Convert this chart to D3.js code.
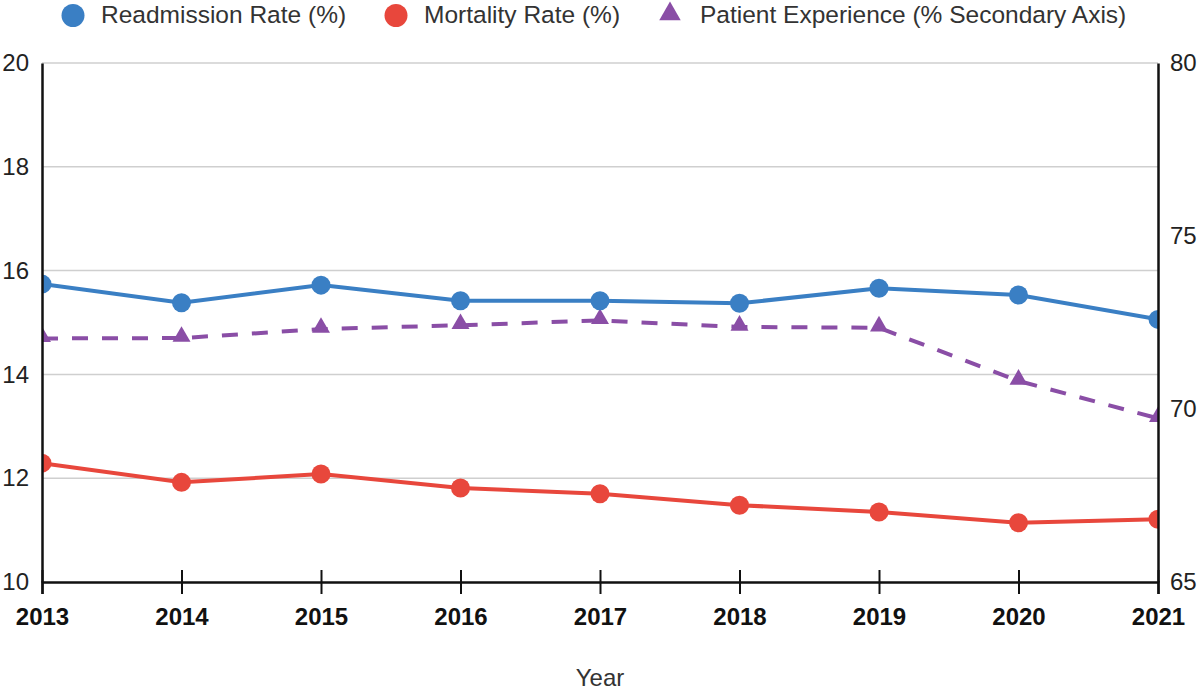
<!DOCTYPE html>
<html>
<head>
<meta charset="utf-8">
<script src="https://cdn.jsdelivr.net/npm/d3@7"></script>
<style>
  body { margin: 0; background: #fff; }
  svg { font-family: "Liberation Sans", Arial, sans-serif; }
</style>
</head>
<body>
<div id="chart"></div>
<script>
// data
const years = [2013, 2014, 2015, 2016, 2017, 2018, 2019, 2020, 2021];
const readmission = [15.74, 15.38, 15.72, 15.42, 15.42, 15.37, 15.66, 15.53, 15.06];
const mortality = [12.29, 11.92, 12.08, 11.81, 11.70, 11.48, 11.35, 11.14, 11.21];
const experience = [72.04, 72.05, 72.31, 72.42, 72.56, 72.37, 72.35, 70.81, 69.73];
const leftTicks = [10, 12, 14, 16, 18, 20];
const rightTicks = [65, 70, 75, 80];

const width = 1200, height = 691;
const margin = {top: 63, bottom: 109, left: 42, right: 42}; // plot 42..1158 x 63..582

const svg = d3.select('#chart').append('svg')
    .attr('width', width).attr('height', height);

const scaleX = d3.scaleLinear([2013, 2021], [margin.left, width - margin.right]);
const scaleY = d3.scaleLinear([10, 20], [height - margin.bottom, margin.top]);
const scaleY2 = d3.scaleLinear([65, 80], [height - margin.bottom, margin.top]);

const colors = {blue: '#3a7fc4', red: '#e8473c', purple: '#8a4ea6'};
const font = '"Liberation Sans", Arial, sans-serif';

// gridlines
svg.append('g')
    .selectAll('line')
    .data(leftTicks.filter(d => d !== 10))
    .join('line')
    .attr('x1', scaleX(2013)).attr('x2', scaleX(2021))
    .attr('y1', d => scaleY(d)).attr('y2', d => scaleY(d))
    .attr('stroke', '#cfcfcf').attr('stroke-width', 1.5);

// clip for plot area
svg.append('clipPath').attr('id', 'plot')
    .append('rect')
    .attr('x', scaleX(2013)).attr('y', 0)
    .attr('width', scaleX(2021) - scaleX(2013)).attr('height', height - margin.bottom);

const plot = svg.append('g').attr('clip-path', 'url(#plot)');

const lineGen = (scale) => d3.line().x((d, i) => scaleX(years[i])).y(d => scale(d));

// patient experience (secondary)
plot.append('path')
    .datum(experience)
    .attr('d', lineGen(scaleY2))
    .attr('fill', 'none').attr('stroke', colors.purple)
    .attr('stroke-width', 4).attr('stroke-dasharray', '16,14');
plot.selectAll('path.tri')
    .data(experience)
    .join('path').classed('tri', true)
    .attr('d', d3.symbol(d3.symbolTriangle, 140))
    .attr('transform', (d, i) => `translate(${scaleX(years[i])},${scaleY2(d) - 1.5})`)
    .attr('fill', colors.purple);

// readmission + mortality
[[readmission, colors.blue], [mortality, colors.red]].forEach(([vals, c]) => {
    plot.append('path')
        .datum(vals)
        .attr('d', lineGen(scaleY))
        .attr('fill', 'none').attr('stroke', c).attr('stroke-width', 4);
    plot.append('g').selectAll('circle')
        .data(vals)
        .join('circle')
        .attr('cx', (d, i) => scaleX(years[i]))
        .attr('cy', d => scaleY(d))
        .attr('r', 9.5)
        .attr('fill', c);
});

// axes
const axisX = svg.append('g')
    .attr('transform', `translate(0,${scaleY(10)})`)
    .call(d3.axisBottom(scaleX).tickValues(years).tickFormat(d3.format('d')).tickSize(12).tickPadding(14));
axisX.select('.domain').attr('stroke', '#111').attr('stroke-width', 2.5);
axisX.selectAll('.tick line').attr('y1', -12).attr('stroke', '#111').attr('stroke-width', 2);
axisX.selectAll('.tick text')
    .attr('font-size', 24).attr('font-weight', 'bold').attr('fill', '#111')
    .attr('font-family', font);

const axisY = svg.append('g')
    .attr('transform', `translate(${scaleX(2013)},0)`)
    .call(d3.axisLeft(scaleY).tickValues(leftTicks).tickSize(0).tickPadding(13));
axisY.select('.domain').attr('stroke', '#111').attr('stroke-width', 2.5);
axisY.selectAll('.tick text')
    .attr('font-size', 24).attr('fill', '#222')
    .attr('font-family', font);

const axisY2 = svg.append('g')
    .attr('transform', `translate(${scaleX(2021)},0)`)
    .call(d3.axisRight(scaleY2).tickValues(rightTicks).tickSize(0).tickPadding(12));
axisY2.select('.domain').attr('stroke', '#111').attr('stroke-width', 2.5);
axisY2.selectAll('.tick text')
    .attr('font-size', 24).attr('fill', '#222')
    .attr('font-family', font);

// axis title
svg.append('text')
    .attr('x', (scaleX(2013) + scaleX(2021)) / 2).attr('y', 686)
    .attr('text-anchor', 'middle')
    .attr('font-size', 24).attr('fill', '#333')
    .text('Year');

// legend
const legend = svg.append('g').attr('font-size', 24.5).attr('fill', '#333');
const items = [
    {label: 'Readmission Rate (%)', color: colors.blue, shape: 'circle', x: 73},
    {label: 'Mortality Rate (%)', color: colors.red, shape: 'circle', x: 396},
    {label: 'Patient Experience (% Secondary Axis)', color: colors.purple, shape: 'tri', x: 670}
];
items.forEach(it => {
    if (it.shape === 'circle') {
        legend.append('circle').attr('cx', it.x).attr('cy', 15.5).attr('r', 11.5).attr('fill', it.color);
    } else {
        legend.append('path').attr('d', d3.symbol(d3.symbolTriangle, 200))
            .attr('transform', `translate(${it.x},14)`).attr('fill', it.color);
    }
    legend.append('text').attr('x', it.x + (it.shape === 'circle' ? 28 : 30)).attr('y', 23)
        .attr('fill', '#333').text(it.label);
});
</script>
</body>
</html>
